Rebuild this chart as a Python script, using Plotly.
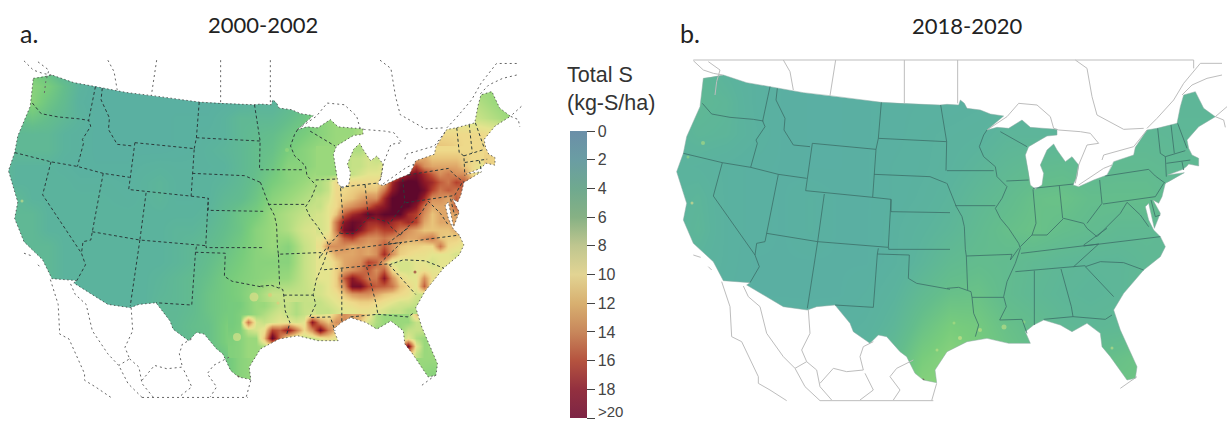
import plotly.graph_objects as go

# ---------- colour ramps ----------
MAP_STOPS = [0, 2.5, 4, 5, 6, 7, 8, 9, 10, 11, 12, 14, 16, 18, 20]
MAP_COLORS = ["#6a94ad", "#58aaa9", "#5bb39d", "#64bd8c", "#78cc7c", "#9ad87c", "#c5e186", "#e4e48e",
              "#eed98a", "#e8c47a", "#dfa668", "#cd784c", "#b5402c", "#8b1726", "#5f082c"]
BAR_STOPS = [0, 2, 4, 6, 8, 10, 12, 14, 16, 18, 20]
BAR_COLORS = ["#6b8fa8", "#6a9da3", "#6fa98f", "#86b184", "#bfc68f", "#e2d493", "#d8b070", "#c8875b",
              "#b5533f", "#93303f", "#7d2545"]
BAR_TICKS = [0, 2, 4, 6, 8, 10, 12, 14, 16, 18, 20]
BAR_LABELS = ["0", "2", "4", "6", "8", "10", "12", "14", "16", "18", ""]
BAR_LAST_LABEL = ">20"

# ---------- left field (2000-2002) ----------
LEFT_X = [16 * i for i in range(34)]
LEFT_Y = [70 + 16 * j for j in range(21)]
LEFT_Z = [
 [5,6,6,5,4,4,3.5,3.5,3.5,3.5,3.5,3.5,3.5,3.5,3.5,3.5,3.5,4,4,4,4,4,4,4,5,5,5,5,6,6,7,7,6.5,6],
 [5,6,6.5,6,5,4,3.5,3.5,3.5,3.5,3.5,3.5,3.5,3.5,3.5,3.5,4,4,4,5,5,5,5,5,5,5,5,6,7,7,7,7,6.5,6],
 [5,5.5,6.5,5.5,4.8,3.8,3.5,3.5,3.5,3.5,3.5,3.5,3.5,3.5,3.6,3.8,4,4,4.5,5,6,6,6,6,6,6,6,7,8,8,7.5,7,6.5,6],
 [4.5,5,5.5,5,4.5,4,3.5,3.5,3.5,3.5,3.5,3.6,3.6,3.6,4,4.5,4.5,4.5,5,5.5,6.5,7,7,7,7,7,7.5,8,8.5,8.5,8,7.5,7,6],
 [4.5,4.5,4.5,4.5,4,3.8,3.5,3.5,3.5,3.5,3.5,3.6,3.7,3.8,4,4.5,4.8,5,5.5,6,6.5,7,7,8,8,8,9,10,10,10,10,9.5,8,7],
 [4.5,4.5,4.5,4.5,4,3.8,3.5,3.5,3.5,3.5,3.5,3.6,3.7,4,4.2,4.5,5,5.2,6,6.5,7,7,7.5,8.5,9,9,11,11.5,11,10,10,10.5,9,8],
 [4.5,4,4,4,3.8,3.6,3.6,3.6,3.6,3.8,3.9,3.8,3.8,3.9,4,4.5,5,5.5,6.5,6.5,7,7.5,8,9,10,13,18,14,12.5,12,11,10,9,8],
 [4.5,4,4,4,4,3.8,3.8,3.8,3.7,4,4.2,3.9,3.9,4,4.2,4.6,5.2,6,6.5,7,7.5,8.5,10,10.5,12,19,20.5,20,15,15,11,9,8,8],
 [4.5,4.5,4,4,4,4,4,3.9,3.8,4,4.2,3.9,3.9,4,4.5,4.8,5.5,6.5,7,7.5,8,10,12,14,18,20,20.5,16,15,14,10,9,8,8],
 [4.5,4.5,4.5,4,4,4,4,4,4,4,4,4,4,4.2,4.8,5.5,6,7,7.5,8,8.5,11,17,19,19,20,16,12,13,13,10,9,8,8],
 [4.5,4.5,4.5,4,4,4,4,4,4,4,4,4.2,4.2,4.5,5,5.5,6.5,7,7.5,8.5,9,11,16,15,14,15,14,12,11.5,11,9,8,8,8],
 [5,4.5,4.5,4.5,4,4,4,4,4,4,4,4.2,4.5,4.8,5.2,5.8,6.5,7,6.5,8,9,9.5,11.5,12,13,13,11.5,10.5,10,9,8,8,8,8],
 [5,4.5,4.5,4.5,4,4,4,4,4,4,4,4.2,4.5,5,5.5,6,6.5,6.5,6.5,8,9,8.5,11,13,15,14,11.5,11,10,9,8,8,8,8],
 [5,5,4.5,4.5,4,4,4,4,4,4,4.2,4.5,4.8,5.2,5.8,6.2,6.5,6.8,7,8,9,8.5,12,17.5,18,17,14,11,13,11,8,8,8,8],
 [5,5,4.5,4.5,4,4,4,4,4,4,4.3,4.5,4.8,5.4,5.8,6.2,7,8,8,8,8.5,8.5,10,11,11,10,9,8,8,8,8,8,8,8],
 [5,5,5,4.5,4.5,4.2,4,4,4,4,4.5,4.5,4.8,5.4,5.8,6,7,7.5,8.5,8,8,8.5,10,10,8,7.5,8,7.5,7,7,7,7,7,7],
 [5,5,5,5,4.5,4.3,4.2,4,4,4,4.4,4.6,5,5.2,6,7,8,9,9.5,9,9.5,11,10,9,7.5,7,7,7,7,7,7,7,7,7],
 [5,5,5,5,5,5,5,5,5,4.5,4.5,4.6,4.8,5.2,6,7,7,8,8,8,8,8,8,8,8,7,7.5,7,7,7,7,7,7,7],
 [5,5,5,5,5,5,5,5,5,5,5,5,5,5,5.5,6.5,7,7,7,7,7,7,7,7,7,7,7,7,7,7,7,7,7,7],
 [5,5,5,5,5,5,5,5,5,5,5,5,5,5,5.5,6.5,7,7,7,7,7,7,7,7,7,7,7,6.5,6.5,6.5,6.5,6.5,6.5,6.5],
 [5,5,5,5,5,5,5,5,5,5,5,5,5,5,5.5,6.5,7,7,7,7,7,7,7,7,7,7,7,6.5,6.5,6.5,6.5,6.5,6.5,6.5],
]
# finer reading of the Gulf coast
GULF_X = [232 + 8 * i for i in range(25)]
GULF_Y = [306 + 8 * j for j in range(7)]
GULF_Z = [
 [5.9,6,6.5,7,7,7.5,8,8,7.5,8,8,8,8.5,9.5,10.5,10.5,10,9,8.5,8,8,8,8,8,8],
 [5.9,6.2,6.5,7,7.5,8,8.5,8,7.5,8,8.5,8.5,9,11,13,12,12,10,7.5,7,7,7,7,11,8],
 [5.9,6.2,14,8.5,8,8.5,9,9,8.5,9,18,13,11,13,13,13,11,8.5,7.5,7,7,7,7,8,8],
 [6,6.3,8,8.5,9.5,16,15,18,14,10,13,19,14,11,10,9,8,8,7,7,7,7,8,8,8],
 [6.2,6.5,7,7,11,20,14,9,8,8,8,9,10,9,9,8,8,8,7,7.5,7,7.5,9,7.5,7],
 [6.3,6.5,7,7,7.5,8,7,7,7,7,7,7,7,7,7,7,7,7,7,7,7,12,19,9,7],
 [6.3,6.5,7,7,7,7,7,7,7,7,7,7,7,7,7,7,7,7,7,7,7,8,11,8,7],
]
# finer reading of the Ohio Valley / Appalachian area
PATCH_X = [320 + 8 * i for i in range(21)]
PATCH_Y = [150 + 8 * j for j in range(21)]
PATCH_Z = [
 [7,7,7,7,7.5,7.5,8,8,8,8,9,9,11,10,10,10,10,10,10,10,10],
 [7,7,7,7.5,8,8,8.5,8,8,9,9,9.5,11,12,11,11,11,11,10.5,10,10],
 [7,7,7,7.5,8,8,8.5,8.5,9,9,10,14,16,13,12,12,12,12,11,10,9],
 [7,7,7,8,8,8.5,9,9,9,10,16,18,19,17,15,13,14,13,13,10,9],
 [7.5,8,10,10,10,10,10,10,11,17,19.5,20.5,20,18,17,15,14,16,15,13,10],
 [7.5,8,10,10,10.5,11,11,11,14,18,20,20.5,20.5,19,16,14,15,14,15,13,10],
 [8,8.5,10,10.5,11,12,13,13,17,20,20.5,20.5,20,17,13,13,12,15,12,10,10],
 [8,9,10,12,13,14,15,17,18,20,20.5,20,18,14,12,12,12,15,15,10,10],
 [8.5,9,11,15,17,18,20,19,20,20,20,17,16,13,11,12,12,12,15,10,10],
 [8.5,9,14,18,19.5,19,17,17,18,17,16,17,16,12,11,12,12,12,15,10,9],
 [8.5,9,14,19,20,18,16,15,16,16,14,13,12,11,11,11,11,12,13,10,9],
 [9,10,12,15,16,14,13,13,14,13,13,12,12,13,14,11,10.5,10.5,9.5,9,9],
 [9.5,13,13,13,12,12.5,12,13,15,13,11,10.5,10.5,10,10,14,10,9.5,9,9,9],
 [9,10,12,12,12,12.5,12,13,17,13,10.5,10,9.5,9.5,9,9,9,8.5,9,9,9],
 [9,9,10.5,12,12.5,13,16,15,12,8.5,8.5,8.5,9,9,8.5,9,9,9,9,9,9],
 [9,9,10.5,12,13,14,15,13,15,10,8.5,8.5,9,9.5,9,9,9,9,9,9,9],
 [9,9,10.5,15,18,16,14,14,18,13,10,9,9,13,9.5,9.5,10,9,9,9,9],
 [8.5,9,10.5,13,19,19,16,15,15,14,11,10,9,15,8.5,9,9,9,9,9,9],
 [8.5,9,9.5,11,12.5,13,13,12,11,10.5,10,9.5,8.5,8,8,8.5,9,9,9,9,9],
 [8,8.5,9,9.5,10,10.5,10.5,10,9.5,9,8.5,8.5,8,8,8,8.5,9,9,9,9,9],
 [8,8,8.5,9,9,9.5,9.5,9,8.5,8,8,7.5,7.5,7.5,8,8.5,9,9,9,9,9],
]
LEFT_SPOT_X = [254,237,270,278,238,22,287,415]
LEFT_SPOT_Y = [297,337,295,303,377,201,150,272]
LEFT_SPOT_V = [9.5,9,11,11,20,8.5,7,18]
LEFT_SPOT_S = [9,8,4,3,3,3,4,3]

# ---------- right field (2018-2020) ----------
RIGHT_X = [670 + 28 * i for i in range(21)]
RIGHT_Y = [70 + 32 * j for j in range(11)]
RIGHT_Z = [
 [4,4.5,4,3.7,3.4,3.3,3.3,3.3,3.3,3.4,3.5,3.5,3.6,3.7,3.8,4,4,4.2,4.2,4.4,4.4],
 [4,4.5,4.3,3.7,3.4,3.3,3.3,3.4,3.5,3.6,3.6,3.7,3.9,4,4,4.1,4.2,4.3,4.3,4.3,4.3],
 [4,4.3,4.2,3.8,3.4,3.3,3.3,3.4,3.5,3.7,3.8,3.9,4.2,4.2,4.2,4.3,4.5,4.5,4.4,4.4,4.4],
 [4,3.9,3.7,3.5,3.4,3.3,3.3,3.4,3.6,3.7,3.9,4.2,4.5,4.7,4.8,4.6,4.7,4.7,4.6,4.6,4.6],
 [4,4.2,3.7,3.5,3.4,3.6,3.4,3.4,3.6,3.8,4.1,4.5,4.8,5.2,5.3,5,5,5,4.6,4.5,4.5],
 [4,4.3,3.7,3.5,3.4,3.6,3.4,3.4,3.7,4,4.3,4.7,5.1,5.3,5,4.8,4.6,4.6,4.5,4.5,4.5],
 [4,4,3.7,3.4,3.4,3.4,3.4,3.4,3.7,4.2,4.7,4.9,4.8,4.6,4.4,4.3,4.3,4.5,4.5,4.5,4.5],
 [4,3.8,3.6,3.4,3.4,3.4,3.4,3.6,4,4.7,5.2,5.3,4.8,4.5,4.3,4.2,4.3,4.6,4.5,4.5,4.5],
 [4,4,4,3.8,3.6,3.5,3.6,3.8,4.3,5.3,6,5.8,5.2,4.9,4.5,4.4,4.5,4.8,4.8,4.8,4.8],
 [4,4,4,4,4,4,3.8,4.2,4.8,6,6.5,6,5.5,5,5,5,5.2,5.5,5.5,5.5,5.5],
 [4,4,4,4,4,4,4,4.5,5.5,6.5,6.5,6,5.5,5,5,5,5.5,5.5,5.5,5.5,5.5],
]
RIGHT_SPOT_X = [1004,960,980,1112,692,703,923,688,954,937,1024]
RIGHT_SPOT_Y = [327,338,330,348,203,143,380,157,323,350,322]
RIGHT_SPOT_V = [8,8.5,8,8,9.5,7.5,20,7,7.5,8,7]
RIGHT_SPOT_S = [5,4,4,3,3,4,3,3,3,3,3]

RING_N_W = [(100,115),(125,112),(160,105),(230,128),(300,140),(400,158),(480,167),(560,178),(634,187),(700,191),(810,195)]
RING_E = [(0,193),(35,195),(40,180),(52,190),(60,205),(100,210),(130,222),(170,228),(120,270),(150,262),(185,265),
          (225,240),(250,262),(285,265),(330,268),(330,285),(300,288),(270,305),(245,320),(235,345),(245,400),(250,435),(265,448),
          (285,435),(290,400),(280,375),(300,330),(320,312),(330,330),(355,365),(375,350),(395,375),(390,410),(378,435),
          (395,440),(440,420),(480,405),(495,378),(500,365),(560,345),(565,322),(600,270),(630,265),(690,250),
          (700,200),(710,165),(745,155),(770,205),(805,230),(755,260),(720,300),(725,325),(735,345),(755,355),(755,378),(725,372),
          (720,378),(708,388),(662,405),(712,398),(665,425),(655,430),(645,470),(635,490),(618,480),(640,520),(622,565),(605,490),
          (595,500),(605,540),(620,570),(640,590),(655,620),(640,650),(590,690),(530,760),(500,810),(520,870),(570,980),
          (565,1015),(540,1020),(490,950),(465,920),(460,880),(420,850),(375,875),(340,855),(290,840),(260,855),(235,875),
          (250,910),(185,910),(120,895),(60,905),(0,935)]
RING_S_W = [(795,990),(800,1028),(760,1020),(735,1000),(710,950),(690,935),(650,890),(625,885),(600,910),(550,875),
            (540,850),(495,795),(440,800),(412,810),(340,800),(230,735),(240,728),(160,722),(130,665),(70,610),(40,540),
            (50,490),(20,395),(40,340),(50,290),(90,200)]

STATES_W = [
 [(97,190),(125,222),(180,232),(250,238),(280,243)],
 [(300,140),(278,243),(285,260),(258,300),(262,310),(242,382)],
 [(40,340),(157,368),(242,382),(325,403),(410,415)],
 [(322,145),(318,180),(345,235),(342,270),(370,315),(420,320)],
 [(427,310),(618,328),(608,472),(407,452),(427,310)],
 [(634,187),(625,295),(618,328)],
 [(625,295),(830,305)],
 [(612,403),(780,410),(830,430)],
 [(608,472),(663,478)],
 [(463,462),(443,605),(655,622),(663,478),(663,515),(840,518)],
 [(656,622),(656,628),(840,628)],
 [(625,625),(622,642),(718,645),(715,715),(740,730),(800,740),(840,748)],
 [(443,605),(412,805)],
 [(622,642),(610,802),(495,795)],
 [(290,580),(443,605)],
 [(325,403),(290,580),(285,605),(260,610),(255,645)],
 [(157,368),(130,468),(255,645),(268,680),(240,728)],
 [(812,195),(830,305),(828,392)],
]
STATES_E = [
 [(0,392),(140,392)], [(25,497),(145,497)],
 [(0,430),(15,470),(28,500),(45,530),(52,560),(55,628),(58,648),(195,643),(190,660),(215,625)],
 [(120,270),(110,285),(97,320),(110,350),(145,380),(150,410),(180,440),(165,475),(145,505),(160,535),(185,565),(215,610),
  (220,625),(205,670),(180,725),(170,770),(178,800),(158,840),(225,838),(240,880)],
 [(75,772),(170,772)], [(0,745),(35,742),(72,755),(75,772),(80,820),(95,855),(85,890)], [(58,648),(62,750)],
 [(160,275),(240,320)], [(178,423),(245,420)], [(258,448),(267,550),(255,585)],
 [(220,620),(255,585),(300,585),(350,535),(410,550),(420,565),(450,590)],
 [(258,445),(337,438),(380,432)], [(337,438),(347,535)], [(458,420),(465,490),(420,550)],
 [(475,408),(605,388),(625,408),(655,430)], [(468,492),(625,470),(650,430)],
 [(632,265),(640,340),(655,350),(658,410)], [(655,350),(715,332)], [(658,370),(730,360)], [(705,365),(710,390)],
 [(672,255),(682,340)], [(692,250),(720,325)],
 [(222,640),(455,612)], [(455,612),(380,680)], [(410,618),(640,590)], [(410,615),(480,565)],
 [(450,590),(520,520),(540,487),(580,525),(605,560)], [(612,480),(625,530),(640,525)],
 [(205,695),(380,680),(415,677)], [(262,692),(262,855)], [(342,687),(373,800),(378,830)],
 [(290,838),(378,830),(475,838),(495,825)], [(415,680),(500,770)], [(415,680),(460,665),(530,668),(590,690)],
]
NEIGHBOURS_W = [
 [(70,62),(100,90),(130,100),(158,105)], [(115,65),(150,90),(140,125),(135,165)],
 [(340,60),(360,95),(370,150)], [(497,60),(480,167)], [(703,60),(703,190)],
 [(155,725),(180,800),(185,890),(215,905),(265,1010),(265,1030),(300,1050),(350,1082)],
 [(220,738),(235,770),(270,800),(290,880),(340,950),(375,985),(405,1040),(450,1082)],
 [(415,810),(420,880),(395,930),(410,965),(375,985)], [(410,965),(440,990),(450,1040),(485,1080)],
 [(450,1030),(490,985),(530,995),(580,990),(570,950),(580,920),(610,905)], [(585,1000),(610,1050),(570,1080)],
 [(730,960),(680,985),(660,1010),(690,1050),(670,1080)], [(800,1030),(785,1082)], [(450,1082),(790,1082)],
 [(70,645),(92,652)], [(115,680),(125,690)],
]
NEIGHBOURS_E = [
 [(32,60),(32,190)], [(385,60),(420,85),(435,170),(450,225),(530,268),(590,265)],
 [(120,270),(180,230),(215,190),(270,195),(310,230),(320,265),(335,270),(400,275),(430,280),(455,310),(420,315),(395,375),(385,430)],
 [(395,435),(470,385),(495,375)], [(465,360),(470,345),(560,320),(600,270)],
 [(825,70),(760,70),(710,130),(680,180),(630,235),(600,265)], [(825,105),(780,115),(735,135),(705,165)],
 [(840,200),(805,230),(830,240),(835,262)], [(520,1045),(570,1010)],
]
FRAME_TOP_W = [(70,60),(831,60)]
FRAME_TOP_E = [(0,60),(740,60),(740,85)]
SCALE_X, SCALE_Y = 0.932, 0.99


def west(p):
    return (670 + p[0] / 3, 40 + p[1] / 3)


def east(p):
    return (947 + p[0] / 3, 40 + p[1] / 3)


def to_left(p):
    return (33 + SCALE_X * (p[0] - 703), 78 + SCALE_Y * (p[1] - 78))


RING = [west(p) for p in RING_N_W] + [east(p) for p in RING_E] + [west(p) for p in RING_S_W]
STATE_PATHS = [[west(p) for p in s] for s in STATES_W] + [[east(p) for p in s] for s in STATES_E]
OTHER_PATHS = [[west(p) for p in s] for s in NEIGHBOURS_W] + [[east(p) for p in s] for s in NEIGHBOURS_E]
TOP_PATHS = [[west(p) for p in FRAME_TOP_W], [east(p) for p in FRAME_TOP_E]]


def flat(paths, f=lambda p: p):
    xs, ys = [], []
    for path in paths:
        for p in path:
            x, y = f(p)
            xs.append(x)
            ys.append(y)
        xs.append(None)
        ys.append(None)
    return xs, ys


def mask(ring, x0, x1, y0, y1):
    # outer rectangle and the land ring wound in opposite senses, joined by a slit
    pts = [ring[0]] + list(ring[::-1])
    xs = [x0, x1, x1, x0, x0] + [p[0] for p in pts] + [x0]
    ys = [y0, y0, y1, y1, y0] + [p[1] for p in pts] + [y0]
    return xs, ys


MAP_SCALE = [[s / 20, c] for s, c in zip(MAP_STOPS, MAP_COLORS)]
# the bar's zero sits on top, so it is drawn on the negated value axis
BAR_SCALE = [[1 - s / 20, c] for s, c in zip(BAR_STOPS[::-1], BAR_COLORS[::-1])]

fig = go.Figure()
LINE = dict(mode="lines", hoverinfo="skip", showlegend=False)


def add_map(xa, ya, fields, spots, f, bounds, state_line, other_line, ring_line, top):
    for hx, hy, hz in fields:
        fig.add_trace(go.Heatmap(x=hx, y=hy, z=hz, zmin=0, zmax=20, colorscale=MAP_SCALE, showscale=False,
                                 zsmooth="best", hoverinfo="skip", xaxis=xa, yaxis=ya))
    sx, sy, sv, ss = spots
    fig.add_trace(go.Scatter(x=sx, y=sy, mode="markers", hoverinfo="skip", showlegend=False, xaxis=xa, yaxis=ya,
                             marker=dict(color=sv, size=ss, cmin=0, cmax=20, colorscale=MAP_SCALE, opacity=0.6,
                                         line=dict(width=0))))
    ring = [f(p) for p in RING]
    mx, my = mask(ring, *bounds)
    fig.add_trace(go.Scatter(x=mx, y=my, fill="toself", fillcolor="white", line=dict(width=0), xaxis=xa, yaxis=ya, **LINE))
    x, y = flat(OTHER_PATHS + (TOP_PATHS if top else []), f)
    fig.add_trace(go.Scatter(x=x, y=y, line=other_line, xaxis=xa, yaxis=ya, **LINE))
    x, y = flat([ring + [ring[0]]])
    fig.add_trace(go.Scatter(x=x, y=y, line=ring_line, xaxis=xa, yaxis=ya, **LINE))
    x, y = flat(STATE_PATHS, f)
    fig.add_trace(go.Scatter(x=x, y=y, line=state_line, xaxis=xa, yaxis=ya, **LINE))


add_map("x", "y", [(LEFT_X, LEFT_Y, LEFT_Z), (GULF_X, GULF_Y, GULF_Z), (PATCH_X, PATCH_Y, PATCH_Z)],
        (LEFT_SPOT_X, LEFT_SPOT_Y, LEFT_SPOT_V, LEFT_SPOT_S), to_left, (-10, 545, 50, 410),
        dict(color="#2b3b3b", width=1, dash="3px,2.5px"),
        dict(color="#666666", width=1, dash="2px,3px"),
        dict(color="#444444", width=0.8, dash="1.5px,2.5px"), False)
add_map("x2", "y2", [(RIGHT_X, RIGHT_Y, RIGHT_Z)],
        (RIGHT_SPOT_X, RIGHT_SPOT_Y, RIGHT_SPOT_V, RIGHT_SPOT_S), lambda p: p, (650, 1250, 50, 410),
        dict(color="#3c6f68", width=0.8),
        dict(color="#bdbdbd", width=1),
        dict(color="#8faaa5", width=0.5), True)

# colour bar carried by an invisible trace
fig.add_trace(go.Scatter(x=[300, 300], y=[10, 10], mode="markers", hoverinfo="skip", showlegend=False,
                         marker=dict(size=1, opacity=0, color=[-20, 0], cmin=-20, cmax=0, colorscale=BAR_SCALE,
                                     showscale=True,
                                     colorbar=dict(xref="container", yref="container", x=570 / 1227, xanchor="left",
                                                   y=1 - 131 / 421, yanchor="top", lenmode="pixels", len=287,
                                                   thicknessmode="pixels", thickness=17, xpad=0, ypad=0,
                                                   outlinewidth=0, ticks="outside", ticklen=8, tickcolor="#444444",
                                                   tickwidth=1.3, tickmode="array", tickvals=[-t for t in BAR_TICKS],
                                                   ticktext=BAR_LABELS,
                                                   tickfont=dict(family="Liberation Sans", size=16, color="#444444")))))

axis = dict(visible=False, fixedrange=True)
fig.update_layout(
    width=1227, height=421, margin=dict(l=0, r=0, t=0, b=0, autoexpand=False), paper_bgcolor="white", plot_bgcolor="white",
    showlegend=False,
    xaxis=dict(domain=[0, 660 / 1227], range=[0, 660], **axis),
    yaxis=dict(domain=[0, 1], range=[421, 0], **axis),
    xaxis2=dict(domain=[660 / 1227, 1], range=[660, 1227], **axis),
    yaxis2=dict(domain=[0, 1], range=[421, 0], **axis),
)


def label(x, y, text, size, family="Lato", color="#222222", anchor="center"):
    fig.add_annotation(xref="paper", yref="paper", x=x / 1227, y=1 - y / 421, text=text, showarrow=False,
                       xanchor=anchor, yanchor="middle", align="left", font=dict(family=family, size=size, color=color))


label(18, 33, "a.", 25, anchor="left")
label(263, 25, "2000-2002", 22)
label(678, 33, "b.", 25, anchor="left")
label(967, 26, "2018-2020", 22)
label(565, 89, "Total S<br>(kg-S/ha)", 21.5, family="Liberation Sans", color="#333333", anchor="left")
label(596, 411, BAR_LAST_LABEL, 15, family="Liberation Sans", color="#444444", anchor="left")

fig.write_html("out.html", config=dict(displayModeBar=False), post_script="document.body.style.margin='0';")
